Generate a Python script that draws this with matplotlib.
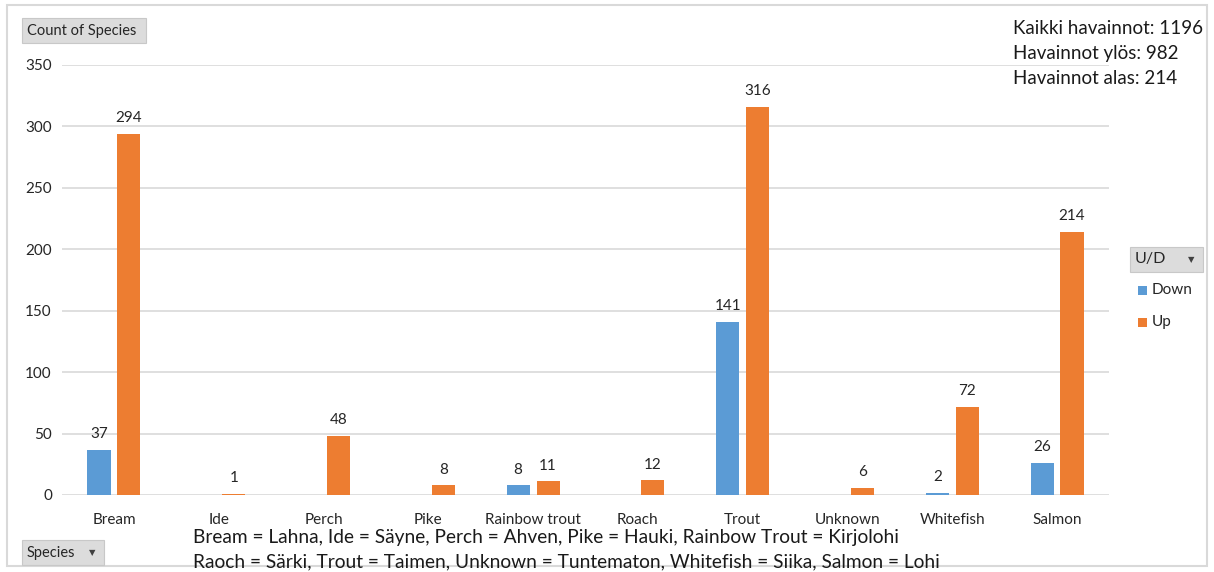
import matplotlib
matplotlib.use("Agg")
import matplotlib.pyplot as plt
import numpy as np
from matplotlib.patches import Rectangle

categories = ["Bream", "Ide", "Perch", "Pike", "Rainbow trout", "Roach", "Trout",
              "Unknown", "Whitefish", "Salmon"]
down = [37, np.nan, np.nan, np.nan, 8, np.nan, 141, np.nan, 2, 26]
up = [294, 1, 48, 8, 11, 12, 316, 6, 72, 214]
yticks = [0, 50, 100, 150, 200, 250, 300, 350]
summary = ["Kaikki havainnot: 1196", "Havainnot ylös: 982", "Havainnot alas: 214"]
footnote = ["Bream = Lahna, Ide = Säyne, Perch = Ahven, Pike = Hauki, Rainbow Trout = Kirjolohi",
            "Raoch = Särki, Trout = Taimen, Unknown = Tuntematon, Whitefish = Siika, Salmon = Lohi"]

plt.rcParams['font.family'] = ['Lato', 'DejaVu Sans']

W, H = 1214, 572
fig = plt.figure(figsize=(W / 100, H / 100), dpi=100)

def fx(px):
    return px / W

def fy(py):
    return 1 - py / H

# outer frame
fig.patches.append(Rectangle((fx(7), fy(566)), fx(1207 - 7), (566 - 5) / H,
                             transform=fig.transFigure, fill=False,
                             edgecolor="#d9d9d9", lw=1.5))

ax = fig.add_axes([fx(61.6), fy(495), fx(1109.4 - 61.6), (495 - 65) / H])
x = np.arange(len(categories))
bw = 0.22
off = 0.143
c_down = "#5b9bd5"
c_up = "#ed7d31"
bd = ax.bar(x - off, down, bw, color=c_down, label="Down")
bu = ax.bar(x + off, up, bw, color=c_up, label="Up")
for bars, vals in ((bd, down), (bu, up)):
    for b, v in zip(bars, vals):
        if np.isnan(v):
            continue
        ax.text(b.get_x() + b.get_width() / 2, v + 7, f"{int(v)}",
                ha="center", va="bottom", fontsize=11, color="#262626")

ax.set_xlim(-0.5, len(categories) - 0.5)
ax.set_ylim(0, 350)
ax.set_yticks(yticks)
ax.set_yticklabels([str(t) for t in yticks], fontsize=11, color="#262626")
ax.set_xticks(x)
ax.set_xticklabels(categories, fontsize=11, color="#262626")
ax.tick_params(axis="both", length=0)
ax.tick_params(axis="y", pad=7)
ax.tick_params(axis="x", pad=13)
ax.grid(axis="y", color="#d9d9d9", lw=1.2)
ax.set_axisbelow(True)
for s in ax.spines.values():
    s.set_visible(False)

def button(x0, y0, x1, y1, text, arrow=False, fs=10.5):
    fig.patches.append(Rectangle((fx(x0), fy(y1)), fx(x1 - x0), (y1 - y0) / H,
                                 transform=fig.transFigure, facecolor="#dcdcdc",
                                 edgecolor="#c8c8c8", lw=0.8))
    fig.text(fx(x0 + 5), fy((y0 + y1) / 2), text, ha="left", va="center",
             fontsize=fs, color="#262626")
    if arrow:
        fig.text(fx(x1 - 12), fy((y0 + y1) / 2), "▼", ha="center", va="center",
                 fontsize=6, color="#404040", family="DejaVu Sans")

button(22, 18, 146, 43, "Count of Species")
button(22, 540, 104, 565, "Species", arrow=True)
button(1130, 247, 1203, 272, "U/D", arrow=True, fs=11.5)

# legend
for i, (lab, col) in enumerate((("Down", c_down), ("Up", c_up))):
    yc = 290 + i * 32
    fig.patches.append(Rectangle((fx(1138), fy(yc + 4.5)), fx(9), 9 / H,
                                 transform=fig.transFigure, facecolor=col,
                                 edgecolor="none"))
    fig.text(fx(1152), fy(yc), lab, ha="left", va="center", fontsize=11,
             color="#262626")

for i, s in enumerate(summary):
    fig.text(fx(1013), fy(28 + i * 25), s, ha="left", va="center",
             fontsize=13.5, color="#1a1a1a")

for i, s in enumerate(footnote):
    fig.text(fx(193), fy(538 + i * 24), s, ha="left", va="center",
             fontsize=13.75, color="#1a1a1a")

fig.savefig("out.png", dpi=100)
